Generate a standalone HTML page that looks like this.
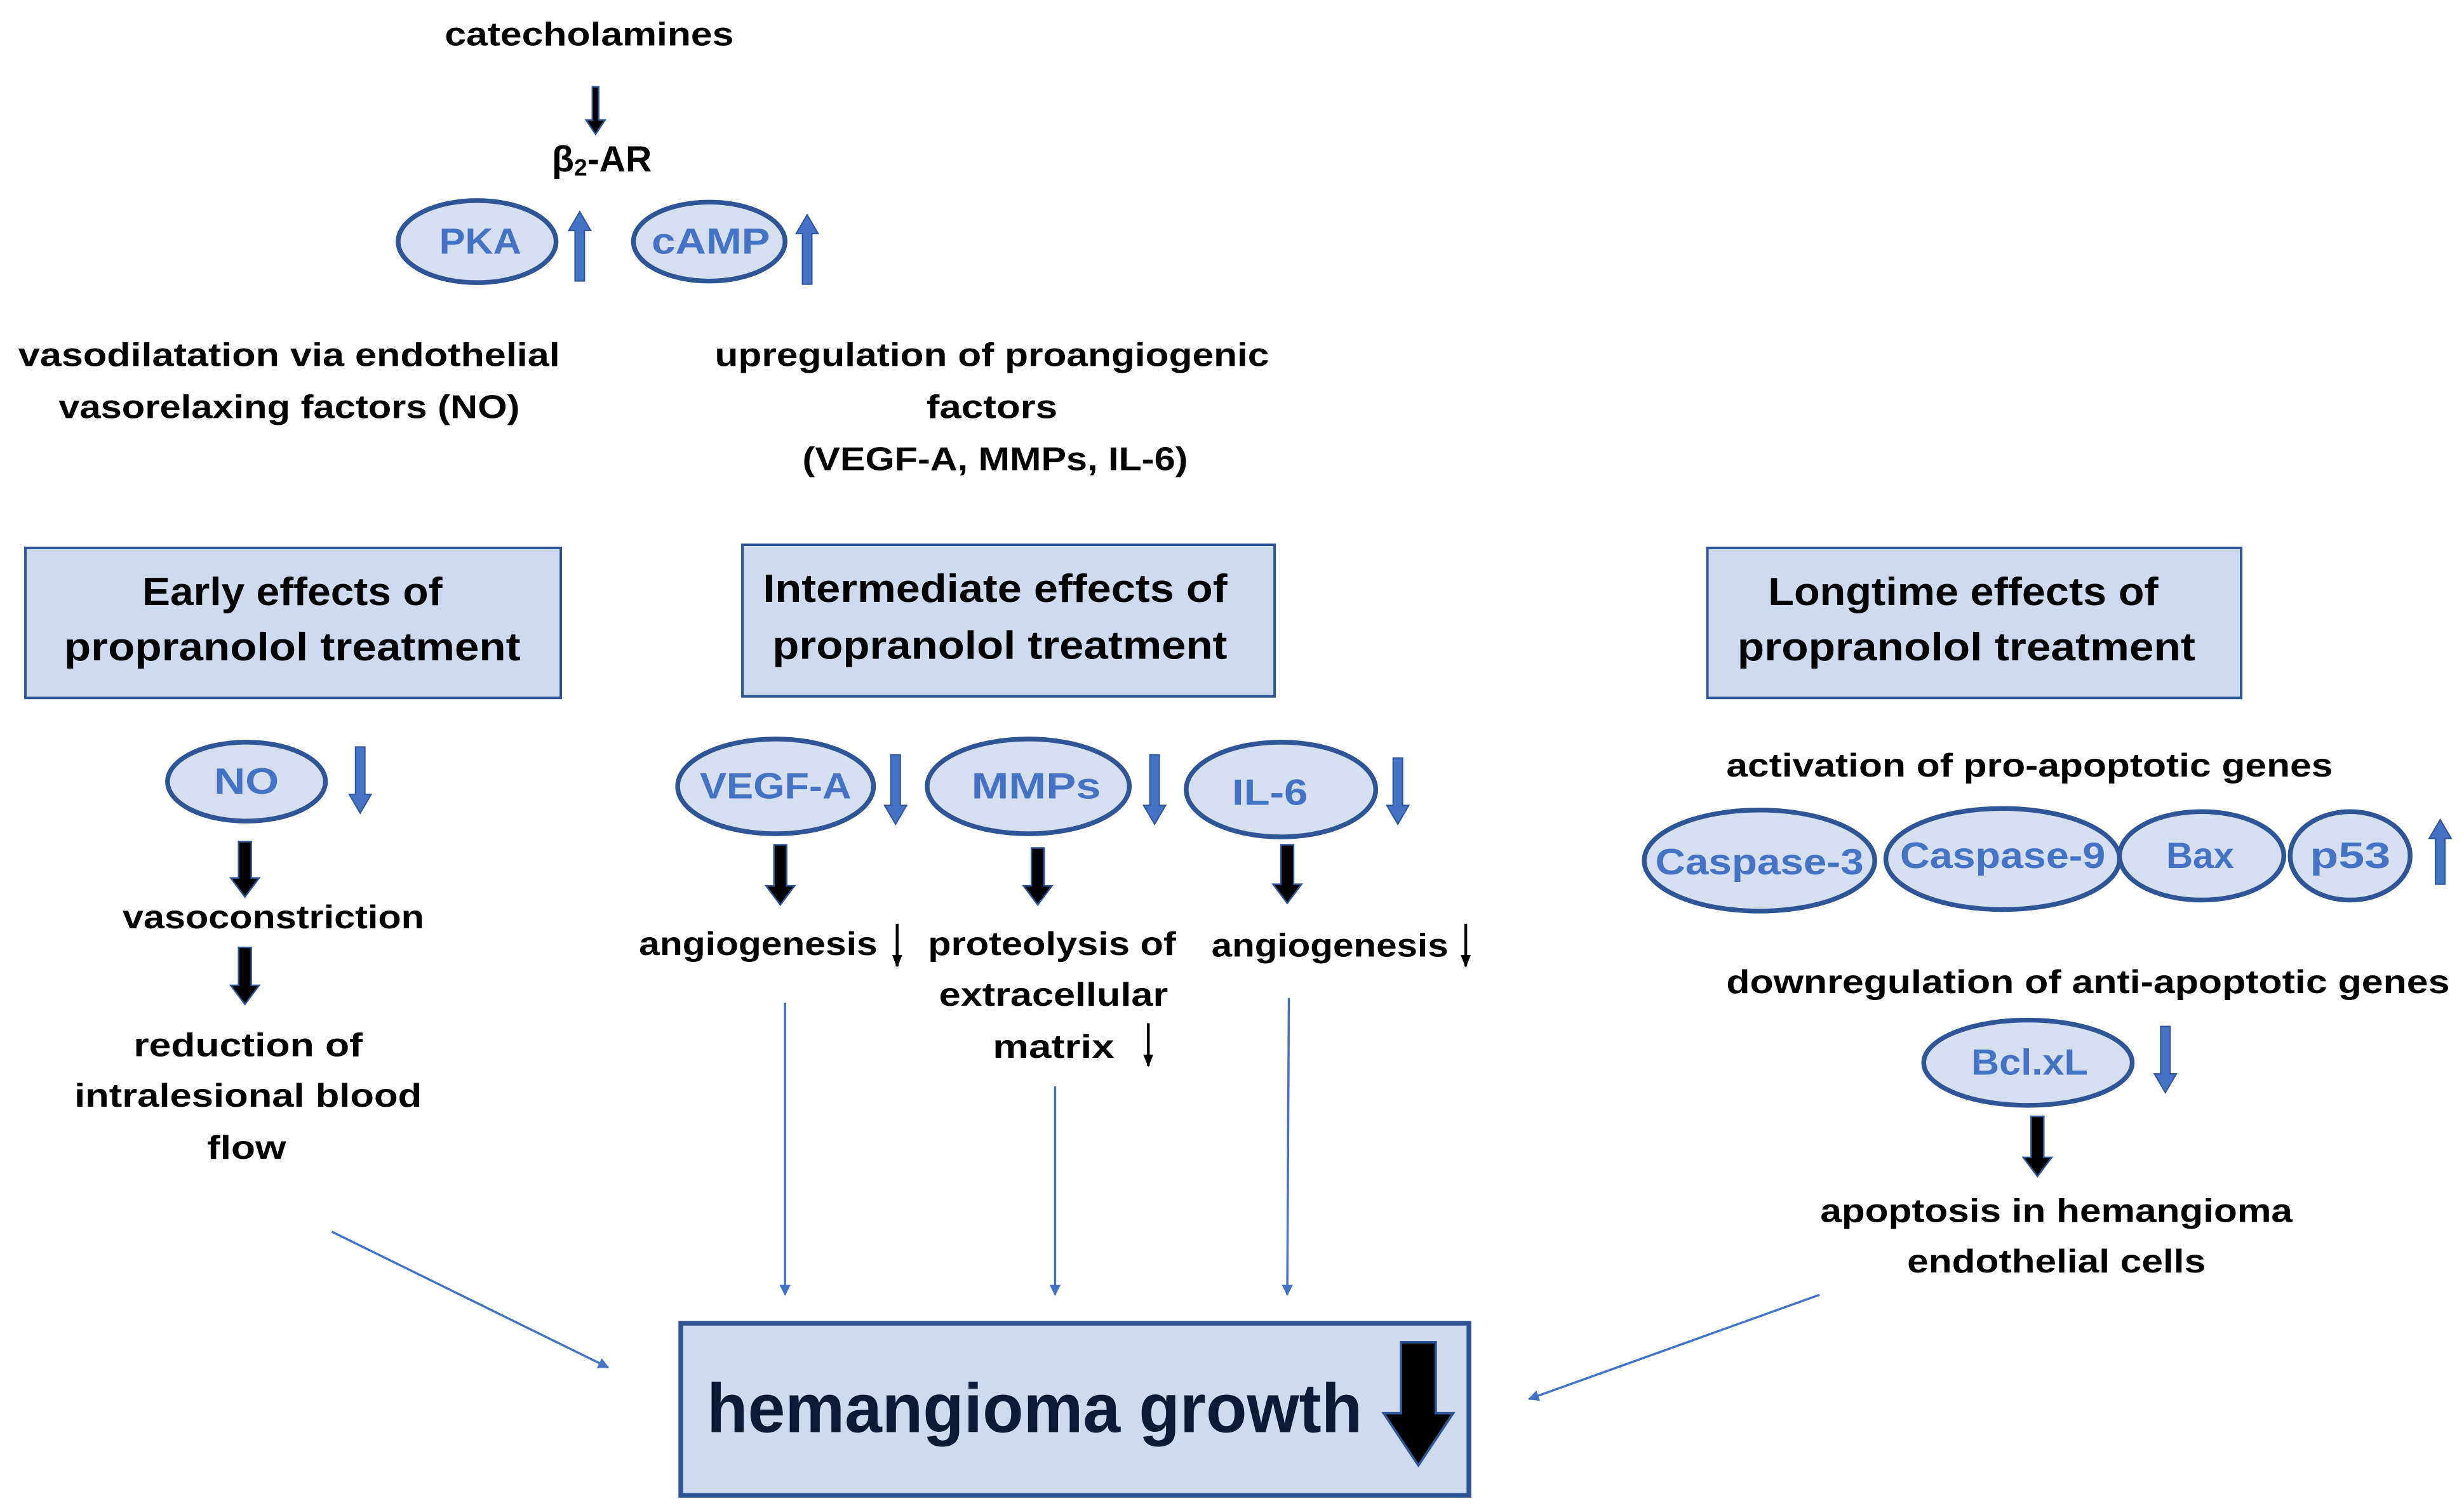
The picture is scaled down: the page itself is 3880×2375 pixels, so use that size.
<!DOCTYPE html>
<html><head><meta charset="utf-8"><style>html,body{margin:0;padding:0;background:#fff}svg{display:block}</style></head>
<body>
<svg width="3880" height="2375" viewBox="0 0 1560 955" xmlns="http://www.w3.org/2000/svg">
<defs>
<marker id="ah" viewBox="0 0 10 10" refX="9" refY="5" markerWidth="7" markerHeight="7" orient="auto-start-reverse" markerUnits="userSpaceOnUse"><path d="M0,0 L10,5 L0,10 z" fill="#4472c4"/></marker>
<marker id="bh" viewBox="0 0 10 10" refX="9" refY="5" markerWidth="8" markerHeight="8" orient="auto" markerUnits="userSpaceOnUse"><path d="M0,1 L10,5 L0,9 z" fill="#000"/></marker>
</defs>
<rect width="1560" height="955" fill="#fff"/>
<g font-family="'Liberation Sans', sans-serif" font-weight="bold" text-anchor="middle" dominant-baseline="central" font-size="21" fill="#000" lengthAdjust="spacingAndGlyphs">
<text x="373" y="22" textLength="183" lengthAdjust="spacingAndGlyphs">catecholamines</text>
<text x="381" y="101" font-size="23">β<tspan font-size="15" dy="5">2</tspan><tspan dy="-5">-AR</tspan></text>
<text x="183" y="225" textLength="343" lengthAdjust="spacingAndGlyphs">vasodilatation via endothelial</text>
<text x="183" y="258" textLength="292" lengthAdjust="spacingAndGlyphs">vasorelaxing factors (NO)</text>
<text x="628" y="225" textLength="351" lengthAdjust="spacingAndGlyphs">upregulation of proangiogenic</text>
<text x="628" y="258" textLength="83" lengthAdjust="spacingAndGlyphs">factors</text>
<text x="630" y="291" textLength="244" lengthAdjust="spacingAndGlyphs">(VEGF-A, MMPs, IL-6)</text>
<text x="173" y="581" textLength="191" lengthAdjust="spacingAndGlyphs">vasoconstriction</text>
<text x="157" y="662" textLength="145" lengthAdjust="spacingAndGlyphs">reduction of</text>
<text x="157" y="694" textLength="220" lengthAdjust="spacingAndGlyphs">intralesional blood</text>
<text x="156" y="727" textLength="50" lengthAdjust="spacingAndGlyphs">flow</text>
<text x="480" y="598" textLength="151" lengthAdjust="spacingAndGlyphs">angiogenesis</text>
<text x="666" y="598" textLength="157" lengthAdjust="spacingAndGlyphs">proteolysis of</text>
<text x="667" y="630" textLength="145" lengthAdjust="spacingAndGlyphs">extracellular</text>
<text x="667" y="663" textLength="77" lengthAdjust="spacingAndGlyphs">matrix</text>
<text x="842" y="599" textLength="150" lengthAdjust="spacingAndGlyphs">angiogenesis</text>
<text x="1285" y="485" textLength="384" lengthAdjust="spacingAndGlyphs">activation of pro-apoptotic genes</text>
<text x="1322" y="622" textLength="458" lengthAdjust="spacingAndGlyphs">downregulation of anti-apoptotic genes</text>
<text x="1302" y="767" textLength="299" lengthAdjust="spacingAndGlyphs">apoptosis in hemangioma</text>
<text x="1302" y="799" textLength="189" lengthAdjust="spacingAndGlyphs">endothelial cells</text>
</g>
<!-- boxes -->
<g fill="#cfdaee" stroke="#2f5597" stroke-width="1.6">
<rect x="16" y="347" width="339" height="95"/>
<rect x="470" y="345" width="337" height="96"/>
<rect x="1081" y="347" width="338" height="95"/>
</g>
<rect x="431" y="838" width="499" height="109" fill="#cfdaee" stroke="#2f5597" stroke-width="3"/>
<g font-family="'Liberation Sans', sans-serif" font-weight="bold" text-anchor="middle" dominant-baseline="central" font-size="25" fill="#000">
<text x="185" y="375" textLength="190" lengthAdjust="spacingAndGlyphs">Early effects of</text>
<text x="185" y="410" textLength="289" lengthAdjust="spacingAndGlyphs">propranolol treatment</text>
<text x="630" y="373" textLength="294" lengthAdjust="spacingAndGlyphs">Intermediate effects of</text>
<text x="633" y="409" textLength="288" lengthAdjust="spacingAndGlyphs">propranolol treatment</text>
<text x="1243" y="375" textLength="247" lengthAdjust="spacingAndGlyphs">Longtime effects of</text>
<text x="1245" y="410" textLength="290" lengthAdjust="spacingAndGlyphs">propranolol treatment</text>
<text x="655" y="892" font-size="44" fill="#0d1a33" textLength="415" lengthAdjust="spacingAndGlyphs">hemangioma growth</text>
</g>
<!-- ellipses -->
<g fill="#d6dff0" stroke="#2f5597" stroke-width="3">
<ellipse cx="302" cy="153" rx="50" ry="26"/>
<ellipse cx="449" cy="153" rx="48" ry="25"/>
<ellipse cx="156" cy="495" rx="50" ry="25"/>
<ellipse cx="491" cy="498" rx="62" ry="30"/>
<ellipse cx="651" cy="498" rx="64" ry="30"/>
<ellipse cx="811" cy="500" rx="60" ry="30"/>
<ellipse cx="1114" cy="545" rx="73" ry="32"/>
<ellipse cx="1268" cy="544" rx="74" ry="32"/>
<ellipse cx="1394" cy="542" rx="52" ry="28"/>
<ellipse cx="1488" cy="542" rx="38" ry="28"/>
<ellipse cx="1284" cy="673" rx="66" ry="27"/>
</g>
<g font-family="'Liberation Sans', sans-serif" font-weight="bold" text-anchor="middle" dominant-baseline="central" font-size="23" fill="#4472c4">
<text x="304" y="153" textLength="52" lengthAdjust="spacingAndGlyphs">PKA</text>
<text x="450" y="153" textLength="75" lengthAdjust="spacingAndGlyphs">cAMP</text>
<text x="156" y="495" textLength="41" lengthAdjust="spacingAndGlyphs">NO</text>
<text x="491" y="498" textLength="96" lengthAdjust="spacingAndGlyphs">VEGF-A</text>
<text x="656" y="498" textLength="82" lengthAdjust="spacingAndGlyphs">MMPs</text>
<text x="804" y="502" textLength="48" lengthAdjust="spacingAndGlyphs">IL-6</text>
<text x="1114" y="546" textLength="132" lengthAdjust="spacingAndGlyphs">Caspase-3</text>
<text x="1268" y="542" textLength="130" lengthAdjust="spacingAndGlyphs">Caspase-9</text>
<text x="1393" y="542" textLength="43" lengthAdjust="spacingAndGlyphs">Bax</text>
<text x="1488" y="542" textLength="51" lengthAdjust="spacingAndGlyphs">p53</text>
<text x="1285" y="673" textLength="74" lengthAdjust="spacingAndGlyphs">Bcl.xL</text>
</g>
<!-- blue arrows -->
<g fill="#4472c4" stroke="#2f5597" stroke-width="0.8">
<polygon points="225,473 231,473 231,503 235,503 228,515 221,503 225,503"/>
<polygon points="564,478 570,478 570,510 574,510 567,522 560,510 564,510"/>
<polygon points="728,478 734,478 734,510 738,510 731,522 724,510 728,510"/>
<polygon points="882,480 888,480 888,510 892,510 885,522 878,510 882,510"/>
<polygon points="1368,650 1374,650 1374,680 1378,680 1371,692 1364,680 1368,680"/>
<polygon points="364,178 370,178 370,146 374,146 367,134 360,146 364,146"/>
<polygon points="508,180 514,180 514,148 518,148 511,136 504,148 508,148"/>
<polygon points="1542,560 1548,560 1548,531 1552,531 1545,519 1538,531 1542,531"/>
</g>
<!-- black arrows -->
<g fill="#000" stroke="#2f5597" stroke-width="1">
<polygon points="375,55 379,55 379,76 383,76 377,85 371,76 375,76"/>
<polygon points="151,533 159,533 159,556 164,556 155,568 146,556 151,556"/>
<polygon points="151,600 159,600 159,624 164,624 155,636 146,624 151,624"/>
<polygon points="490,535 498,535 498,561 503,561 494,573 485,561 490,561"/>
<polygon points="653,537 661,537 661,561 666,561 657,573 648,561 653,561"/>
<polygon points="811,535 819,535 819,560 824,560 815,572 806,560 811,560"/>
<polygon points="1286,707 1294,707 1294,733 1299,733 1290,745 1281,733 1286,733"/>
<polygon points="887,850 909,850 909,895 920,895 898,928 876,895 887,895" stroke-width="1.5"/>
</g>
<!-- small black thin arrows -->
<g stroke="#000" stroke-width="1.8" marker-end="url(#bh)">
<line x1="568" y1="585" x2="568" y2="612"/>
<line x1="727" y1="648" x2="727" y2="675"/>
<line x1="928" y1="585" x2="928" y2="612"/>
</g>
<!-- thin blue connectors -->
<g stroke="#4472c4" stroke-width="1.4" marker-end="url(#ah)">
<line x1="497" y1="635" x2="497" y2="820"/>
<line x1="668" y1="688" x2="668" y2="820"/>
<line x1="816" y1="632" x2="815" y2="820"/>
<line x1="210" y1="780" x2="385" y2="866"/>
<line x1="1152" y1="820" x2="968" y2="886"/>
</g>
</svg>
</body></html>
